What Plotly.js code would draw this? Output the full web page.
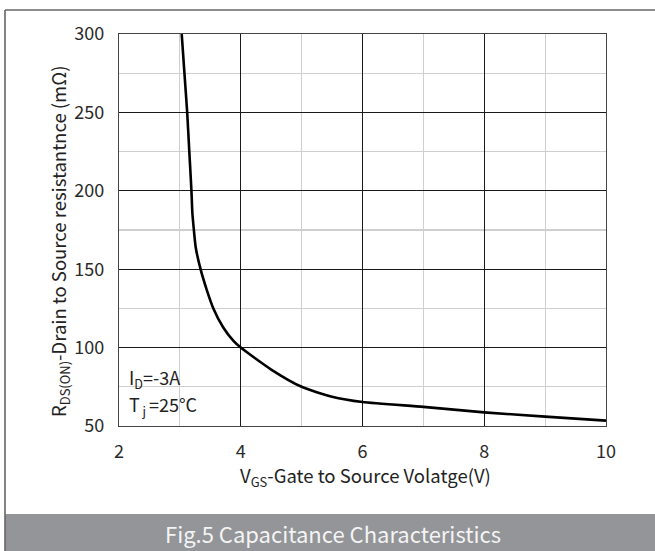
<!DOCTYPE html>
<html>
<head>
<meta charset="utf-8">
<script src="https://cdn.plot.ly/plotly-3.0.1.min.js"></script>
<style>html,body{margin:0;padding:0;background:#fff;}#chart{width:655px;height:551px;}</style>
</head>
<body>
<div id="chart"></div>
<script>
// Data
const vgs = [3.03, 3.075, 3.12, 3.155, 3.19, 3.205, 3.23, 3.26, 3.34, 3.44, 3.55, 3.71, 3.88, 4.0, 4.5, 5.0, 5.5, 6.0, 7.0, 8.0, 9.0, 10.0];
const rds = [300, 275, 250, 225, 200, 186, 175, 164, 150, 137, 125, 113, 104.3, 100, 86, 75, 68.7, 65.3, 62.2, 58.7, 56, 53.4];
const xTicks = [2, 4, 6, 8, 10];
const yTicks = [50, 100, 150, 200, 250, 300];

const FONT = "'Noto Sans CJK SC', 'Noto Sans', sans-serif";
const L = 119, R = 606, T = 34, B = 426, W = 655, H = 551;
const px = v => (v - L) / (R - L);
const py = v => (B - v) / (B - T);
const tf = (size, color) => ({family: FONT, size: size, color: color, weight: 400});

const trace = {
  x: vgs, y: rds, type: 'scatter', mode: 'lines',
  line: {color: '#000', width: 2.6, shape: 'spline', smoothing: 0.6},
  hoverinfo: 'skip', showlegend: false
};

function ann(x, y, text, opts) {
  return Object.assign({xref: 'paper', yref: 'paper', x: px(x), y: py(y), text: text,
    showarrow: false, xanchor: 'center', yanchor: 'middle', font: tf(18, '#222')}, opts || {});
}

const layout = {
  width: W, height: H,
  margin: {l: L, r: W - R, t: T, b: H - B, pad: 0},
  paper_bgcolor: '#fff', plot_bgcolor: '#fff',
  font: tf(18, '#2a2a2a'),
  xaxis: {
    range: [2, 10], tickvals: xTicks, ticktext: xTicks.map(String),
    showgrid: true, gridcolor: '#1a1a1a', gridwidth: 1.3,
    minor: {dtick: 1, tick0: 2, showgrid: true, gridcolor: '#cfcfcf', gridwidth: 1.2},
    showline: true, linecolor: '#444', linewidth: 1.2, mirror: true,
    ticks: 'outside', ticklen: 9, tickcolor: 'rgba(0,0,0,0)',
    zeroline: false, fixedrange: true,
    tickfont: tf(18, '#2a2a2a')
  },
  yaxis: {
    range: [50, 300], tickvals: yTicks, ticktext: yTicks.map(String),
    showgrid: true, gridcolor: '#1a1a1a', gridwidth: 1.3,
    minor: {dtick: 25, tick0: 50, showgrid: true, gridcolor: '#cfcfcf', gridwidth: 1.2},
    showline: true, linecolor: '#444', linewidth: 1.2, mirror: true,
    ticks: 'outside', ticklen: 10, tickcolor: 'rgba(0,0,0,0)',
    zeroline: false, fixedrange: true,
    tickfont: tf(18, '#2a2a2a')
  },
  shapes: [
    {type: 'rect', xref: 'paper', yref: 'paper', x0: px(5), x1: px(660), y0: py(560), y1: py(514),
     fillcolor: '#939598', line: {width: 0}, layer: 'above'},
    {type: 'line', xref: 'paper', yref: 'paper', x0: px(5), x1: px(660), y0: py(10), y1: py(10),
     line: {color: '#666', width: 1.6}},
    {type: 'line', xref: 'paper', yref: 'paper', x0: px(5), x1: px(5), y0: py(10), y1: py(560),
     line: {color: '#666', width: 1.6}}
  ],
  annotations: [
    ann(60, 242, 'R<sub>DS(ON)</sub>-Drain to Source resistantnce (mΩ)', {textangle: -90, font: tf(18.5, '#222')}),
    ann(365, 476, 'V<sub>GS</sub>-Gate to Source Volatge(V)', {font: tf(18.5, '#222')}),
    ann(127, 378, 'I<sub>D</sub>=-3A', {xanchor: 'left'}),
    ann(127, 405, 'T<sub> j </sub>=25°C', {xanchor: 'left'}),
    ann(333, 533, 'Fig.5 Capacitance Characteristics', {font: tf(22, '#f4f4f4')})
  ]
};

Plotly.newPlot('chart', [trace], layout, {staticPlot: true, displayModeBar: false});
</script>
</body>
</html>
